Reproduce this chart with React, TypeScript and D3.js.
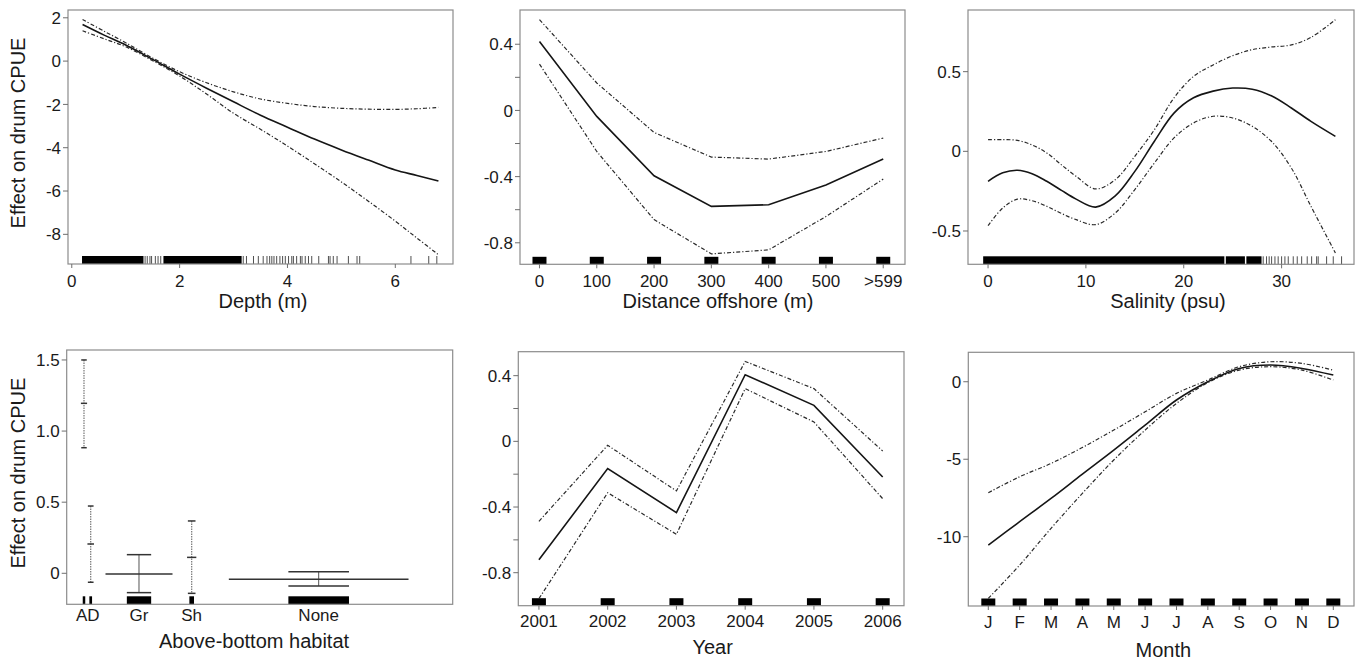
import React from "react";
import * as d3 from "d3";

// ---------- Panel 1: Depth ----------
const depthX = [0.2, 0.6, 1, 1.5, 2, 2.5, 3, 3.5, 4, 4.5, 5, 5.5, 6, 6.4, 6.8];
const depthFit = [1.69, 1.2, 0.74, 0.08, -0.6, -1.25, -1.88, -2.5, -3.05, -3.6, -4.1, -4.57, -5.03, -5.28, -5.54];
const depthUpper = [1.92, 1.38, 0.85, 0.14, -0.49, -1.0, -1.42, -1.75, -1.95, -2.1, -2.18, -2.22, -2.23, -2.2, -2.14];
const depthLower = [1.4, 1.03, 0.66, 0.02, -0.69, -1.52, -2.41, -3.15, -3.92, -4.74, -5.58, -6.47, -7.39, -8.17, -8.94];
const depthRugDense = [[0.19, 1.33], [1.7, 3.15]];
const depthRugTicks = [1.36, 1.4, 1.45, 1.48, 1.55, 1.6, 1.65, 3.18, 3.24, 3.37, 3.46, 3.55, 3.62, 3.67, 3.71, 3.75, 3.8, 3.86, 3.91, 3.96, 4.02, 4.08, 4.11, 4.17, 4.24, 4.27, 4.33, 4.39, 4.45, 4.58, 4.76, 4.79, 4.85, 4.92, 5.13, 5.29, 5.34, 6.29, 6.62, 6.77];
const depthXTicks = [0, 2, 4, 6];
const depthYTicks = [-8, -6, -4, -2, 0, 2];

// ---------- Panel 2: Distance offshore ----------
const distCategories = ["0", "100", "200", "300", "400", "500", ">599"];
const distFit = [0.417, -0.036, -0.395, -0.58, -0.57, -0.45, -0.294];
const distUpper = [0.549, 0.166, -0.133, -0.282, -0.294, -0.248, -0.167];
const distLower = [0.28, -0.248, -0.66, -0.867, -0.843, -0.641, -0.415];
const distYTicks = [-0.8, -0.6, -0.4, -0.2, 0, 0.2, 0.4];
const distYLabels = [-0.8, -0.4, 0, 0.4];

// ---------- Panel 3: Salinity ----------
const salX = [0, 1.5, 3, 4.5, 6, 7.5, 9, 11, 13, 15, 17, 19, 21, 23, 25, 27, 29, 31, 33, 35.5];
const salFit = [-0.188, -0.135, -0.119, -0.14, -0.188, -0.245, -0.3, -0.35, -0.28, -0.126, 0.063, 0.24, 0.336, 0.378, 0.397, 0.39, 0.347, 0.272, 0.188, 0.094];
const salUpper = [0.073, 0.073, 0.069, 0.04, -0.01, -0.085, -0.157, -0.236, -0.178, -0.031, 0.136, 0.335, 0.47, 0.542, 0.6, 0.638, 0.655, 0.668, 0.715, 0.826];
const salLower = [-0.466, -0.356, -0.3, -0.31, -0.345, -0.39, -0.429, -0.46, -0.387, -0.24, -0.073, 0.084, 0.178, 0.22, 0.209, 0.157, 0.06, -0.105, -0.345, -0.638];
const salRugDense = [[-0.5, 24.15], [24.3, 26.25], [26.4, 27.95]];
const salRugTicks = [28.12, 28.46, 28.73, 28.98, 29.32, 29.65, 30.0, 30.34, 30.68, 31.19, 31.6, 32.05, 32.62, 33.07, 33.58, 33.74, 34.6, 35.28, 36.13];
const salXTicks = [0, 10, 20, 30];
const salYTicks = [-0.5, 0, 0.5];

// ---------- Panel 4: Above-bottom habitat ----------
const habitatLabels = ["AD", "Gr", "Sh", "None"];
const habitatLabelPos = [5.44, 18.73, 32.38, 65.28];
const habitatCenter = [4.48, 6.22, 18.73, 32.38, 65.28];
const habitatFit = [1.195, 0.206, -0.005, 0.112, -0.042];
const habitatUpper = [1.5, 0.473, 0.131, 0.368, 0.011];
const habitatLower = [0.883, -0.063, -0.136, -0.141, -0.089];
const habitatFitWidth = [1.6, 1.7, 17.36, 2.4, 46.55];
const habitatCapWidth = [0.65, 0.7, 6.3, 1.2, 15.7];
const habitatYTicks = [0, 0.5, 1.0, 1.5];

// ---------- Panel 5: Year ----------
const years = [2001, 2002, 2003, 2004, 2005, 2006];
const yearFit = [-0.721, -0.166, -0.434, 0.406, 0.219, -0.217];
const yearUpper = [-0.487, -0.024, -0.302, 0.487, 0.321, -0.059];
const yearLower = [-0.958, -0.313, -0.566, 0.321, 0.118, -0.349];
const yearYTicks = [-0.8, -0.6, -0.4, -0.2, 0, 0.2, 0.4];
const yearYLabels = [-0.8, -0.4, 0, 0.4];

// ---------- Panel 6: Month ----------
const monthLabels = ["J", "F", "M", "A", "M", "J", "J", "A", "S", "O", "N", "D"];
const monthFit = [-10.54, -9.03, -7.53, -5.96, -4.41, -2.8, -1.18, 0.0, 0.86, 1.08, 0.86, 0.43];
const monthUpper = [-7.16, -6.13, -5.27, -4.24, -3.12, -1.94, -0.75, 0.11, 0.97, 1.29, 1.18, 0.75];
const monthLower = [-13.98, -11.83, -9.46, -7.2, -5.05, -3.12, -1.4, -0.06, 0.75, 0.97, 0.75, 0.11];
const monthYTicks = [-10, -5, 0];

const FONT = "'Liberation Sans', Arial, Helvetica, sans-serif";
const TXT = "#1a1a1a";
const BOX = "#8c8c8c";
const TICK = "#6e6e6e";
const SOLID = { stroke: "#151515", strokeWidth: 1.6, fill: "none" };
const DASH = { stroke: "#2a2a2a", strokeWidth: 1.2, fill: "none", strokeDasharray: "4,2,1.2,2" };

type Box = { x0: number; y0: number; x1: number; y1: number };

function fmt(v: number) {
  if (Math.abs(v) < 1e-9) return "0";
  return String(v);
}

function Frame(props: {
  box: Box;
  x: (v: number) => number;
  y: (v: number) => number;
  yTicks: number[];
  yLabels: number[];
  yLabelFmt?: (v: number) => string;
  xTicks: number[];
  xTickText: (v: number, i: number) => string;
  xTickMarks: boolean;
  xLabelDy: number;
  title: string;
  titleX: number;
  titleDy: number;
  yTitle?: string;
}) {
  const { box, x, y } = props;
  const f = props.yLabelFmt || fmt;
  return (
    <g>
      <rect x={box.x0} y={box.y0} width={box.x1 - box.x0} height={box.y1 - box.y0} fill="none" stroke={BOX} strokeWidth={1.2} />
      {props.yTicks.map((t, i) => (
        <line key={"yt" + i} x1={box.x0 - 5} x2={box.x0} y1={y(t)} y2={y(t)} stroke={TICK} strokeWidth={1} />
      ))}
      {props.yLabels.map((t, i) => (
        <text key={"yl" + i} x={box.x0 - 7} y={y(t)} dy="0.36em" textAnchor="end" fontSize={17} fontFamily={FONT} fill={TXT}>
          {f(t)}
        </text>
      ))}
      {props.xTickMarks &&
        props.xTicks.map((t, i) => (
          <line key={"xt" + i} x1={x(t)} x2={x(t)} y1={box.y1} y2={box.y1 + 4} stroke={TICK} strokeWidth={1} />
        ))}
      {props.xTicks.map((t, i) => (
        <text key={"xl" + i} x={x(t)} y={box.y1 + props.xLabelDy} textAnchor="middle" fontSize={17} fontFamily={FONT} fill={TXT}>
          {props.xTickText(t, i)}
        </text>
      ))}
      <text x={props.titleX} y={box.y1 + props.titleDy} textAnchor="middle" fontSize={20} fontFamily={FONT} fill={TXT}>
        {props.title}
      </text>
      {props.yTitle && (
        <text
          transform={`translate(18,${(box.y0 + box.y1) / 2 - 4}) rotate(-90)`}
          dy="0.36em"
          textAnchor="middle"
          fontSize={20}
          fontFamily={FONT}
          fill={TXT}
        >
          {props.yTitle}
        </text>
      )}
    </g>
  );
}

function curvePaths(xs: number[], series: number[][], x: any, y: any, curve: any) {
  const gen = d3
    .line<number>()
    .x((_, i) => x(xs[i]))
    .y((d) => y(d))
    .curve(curve);
  return series.map((s) => gen(s) || "");
}

function DepthPanel() {
  const box = { x0: 68, y0: 10, x1: 453, y1: 264 };
  const x = d3.scaleLinear().domain([-0.07, 7.07]).range([box.x0, box.x1]);
  const y = d3.scaleLinear().domain([-9.37, 2.36]).range([box.y1, box.y0]);
  const [pf, pu, pl] = curvePaths(depthX, [depthFit, depthUpper, depthLower], x, y, d3.curveCatmullRom);
  return (
    <g>
      {depthRugDense.map((r, i) => (
        <rect key={"rd" + i} x={x(r[0])} y={box.y1 - 8} width={x(r[1]) - x(r[0])} height={8} fill="#000" />
      ))}
      {depthRugTicks.map((v, i) => (
        <line key={"rt" + i} x1={x(v)} x2={x(v)} y1={box.y1 - 8} y2={box.y1} stroke="#222" strokeWidth={0.8} />
      ))}
      <path d={pu} {...DASH} />
      <path d={pl} {...DASH} />
      <path d={pf} {...SOLID} />
      <Frame
        box={box}
        x={x}
        y={y}
        yTicks={depthYTicks}
        yLabels={depthYTicks}
        xTicks={depthXTicks}
        xTickText={(v) => fmt(v)}
        xTickMarks={true}
        xLabelDy={23}
        title="Depth (m)"
        titleX={263}
        titleDy={44}
        yTitle="Effect on drum CPUE"
      />
    </g>
  );
}

function DistancePanel() {
  const box = { x0: 520, y0: 10, x1: 905, y1: 264.3 };
  const idx = distCategories.map((_, i) => i);
  const x = d3.scaleLinear().domain([-0.34, 6.38]).range([box.x0, box.x1]);
  const y = d3.scaleLinear().domain([-0.93, 0.607]).range([box.y1, box.y0]);
  const [pf, pu, pl] = curvePaths(idx, [distFit, distUpper, distLower], x, y, d3.curveLinear);
  return (
    <g>
      {idx.map((i) => (
        <rect key={"r" + i} x={x(i) - 7} y={box.y1 - 7.5} width={14} height={7.5} fill="#000" />
      ))}
      <path d={pu} {...DASH} />
      <path d={pl} {...DASH} />
      <path d={pf} {...SOLID} />
      <Frame
        box={box}
        x={x}
        y={y}
        yTicks={distYTicks}
        yLabels={distYLabels}
        xTicks={idx}
        xTickText={(_, i) => distCategories[i]}
        xTickMarks={true}
        xLabelDy={23}
        title="Distance offshore (m)"
        titleX={718}
        titleDy={44}
      />
    </g>
  );
}

function SalinityPanel() {
  const box = { x0: 968, y0: 10, x1: 1354, y1: 264.3 };
  const x = d3.scaleLinear().domain([-2.05, 37.4]).range([box.x0, box.x1]);
  const y = d3.scaleLinear().domain([-0.709, 0.887]).range([box.y1, box.y0]);
  const [pf, pu, pl] = curvePaths(salX, [salFit, salUpper, salLower], x, y, d3.curveCatmullRom);
  return (
    <g>
      {salRugDense.map((r, i) => (
        <rect key={"rd" + i} x={x(r[0])} y={box.y1 - 8} width={x(r[1]) - x(r[0])} height={8} fill="#000" />
      ))}
      {salRugTicks.map((v, i) => (
        <line key={"rt" + i} x1={x(v)} x2={x(v)} y1={box.y1 - 8} y2={box.y1} stroke="#222" strokeWidth={0.8} />
      ))}
      <path d={pu} {...DASH} />
      <path d={pl} {...DASH} />
      <path d={pf} {...SOLID} />
      <Frame
        box={box}
        x={x}
        y={y}
        yTicks={salYTicks}
        yLabels={salYTicks}
        xTicks={salXTicks}
        xTickText={(v) => fmt(v)}
        xTickMarks={true}
        xLabelDy={23}
        title="Salinity (psu)"
        titleX={1168}
        titleDy={44}
      />
    </g>
  );
}

function HabitatPanel() {
  const box = { x0: 66.7, y0: 350, x1: 452.7, y1: 604.3 };
  const x = d3.scaleLinear().domain([0, 100]).range([box.x0, box.x1]);
  const y = d3.scaleLinear().domain([-0.218, 1.57]).range([box.y1, box.y0]);
  return (
    <g>
      {habitatCenter.map((c, i) => {
        const cw = habitatCapWidth[i];
        const fw = habitatFitWidth[i];
        const narrow = cw < 3;
        const px = (v: number) => x(v);
        return (
          <g key={"h" + i}>
            <rect x={px(c - cw / 2)} y={box.y1 - 8} width={px(c + cw / 2) - px(c - cw / 2)} height={8} fill="#000" />
            <line
              x1={px(c)}
              x2={px(c)}
              y1={y(habitatUpper[i])}
              y2={y(habitatLower[i])}
              stroke={narrow ? "#777" : "#555"}
              strokeWidth={narrow ? 1.2 : 1}
              strokeDasharray={narrow ? "1.5,1" : undefined}
            />
            <line x1={px(c - cw / 2) - (narrow ? 1.5 : 0)} x2={px(c + cw / 2) + (narrow ? 1.5 : 0)} y1={y(habitatUpper[i])} y2={y(habitatUpper[i])} stroke="#333" strokeWidth={1.5} />
            <line x1={px(c - cw / 2) - (narrow ? 1.5 : 0)} x2={px(c + cw / 2) + (narrow ? 1.5 : 0)} y1={y(habitatLower[i])} y2={y(habitatLower[i])} stroke="#333" strokeWidth={1.5} />
            <line x1={px(c - fw / 2)} x2={px(c + fw / 2)} y1={y(habitatFit[i])} y2={y(habitatFit[i])} stroke="#333" strokeWidth={1.5} />
          </g>
        );
      })}
      <Frame
        box={box}
        x={x}
        y={y}
        yTicks={habitatYTicks}
        yLabels={habitatYTicks}
        yLabelFmt={(v) => (v === 0 ? "0" : v.toFixed(1))}
        xTicks={habitatLabelPos}
        xTickText={(_, i) => habitatLabels[i]}
        xTickMarks={false}
        xLabelDy={17}
        title="Above-bottom habitat"
        titleX={254}
        titleDy={44}
        yTitle="Effect on drum CPUE"
      />
    </g>
  );
}

function YearPanel() {
  const box = { x0: 518.3, y0: 351.7, x1: 904, y1: 605.7 };
  const x = d3.scaleLinear().domain([2000.7, 2006.31]).range([box.x0, box.x1]);
  const y = d3.scaleLinear().domain([-1.001, 0.546]).range([box.y1, box.y0]);
  const [pf, pu, pl] = curvePaths(years, [yearFit, yearUpper, yearLower], x, y, d3.curveLinear);
  return (
    <g>
      {years.map((yr, i) => (
        <rect key={"r" + i} x={x(yr) - 7} y={box.y1 - 7.5} width={14} height={7.5} fill="#000" />
      ))}
      <path d={pu} {...DASH} />
      <path d={pl} {...DASH} />
      <path d={pf} {...SOLID} />
      <Frame
        box={box}
        x={x}
        y={y}
        yTicks={yearYTicks}
        yLabels={yearYLabels}
        xTicks={years}
        xTickText={(v) => String(v)}
        xTickMarks={true}
        xLabelDy={21.6}
        title="Year"
        titleX={712.7}
        titleDy={48.6}
      />
    </g>
  );
}

function MonthPanel() {
  const box = { x0: 968.3, y0: 352.3, x1: 1354, y1: 606 };
  const months = monthLabels.map((_, i) => i + 1);
  const x = d3.scaleLinear().domain([0.362, 12.66]).range([box.x0, box.x1]);
  const y = d3.scaleLinear().domain([-14.47, 1.9]).range([box.y1, box.y0]);
  const [pf, pu, pl] = curvePaths(months, [monthFit, monthUpper, monthLower], x, y, d3.curveCatmullRom);
  return (
    <g>
      {months.map((m, i) => (
        <rect key={"r" + i} x={x(m) - 7} y={box.y1 - 7.5} width={14} height={7.5} fill="#000" />
      ))}
      <path d={pu} {...DASH} />
      <path d={pl} {...DASH} />
      <path d={pf} {...SOLID} />
      <Frame
        box={box}
        x={x}
        y={y}
        yTicks={monthYTicks}
        yLabels={monthYTicks}
        xTicks={months}
        xTickText={(_, i) => monthLabels[i]}
        xTickMarks={true}
        xLabelDy={21.6}
        title="Month"
        titleX={1163.3}
        titleDy={50.7}
      />
    </g>
  );
}

export default function App() {
  return (
    <svg
      width={1360}
      height={660}
      viewBox="0 0 1360 660"
      style={{ position: "absolute", left: 0, top: 0, background: "#fff" }}
    >
      <rect x={0} y={0} width={1360} height={660} fill="#fff" />
      <DepthPanel />
      <DistancePanel />
      <SalinityPanel />
      <HabitatPanel />
      <YearPanel />
      <MonthPanel />
    </svg>
  );
}
